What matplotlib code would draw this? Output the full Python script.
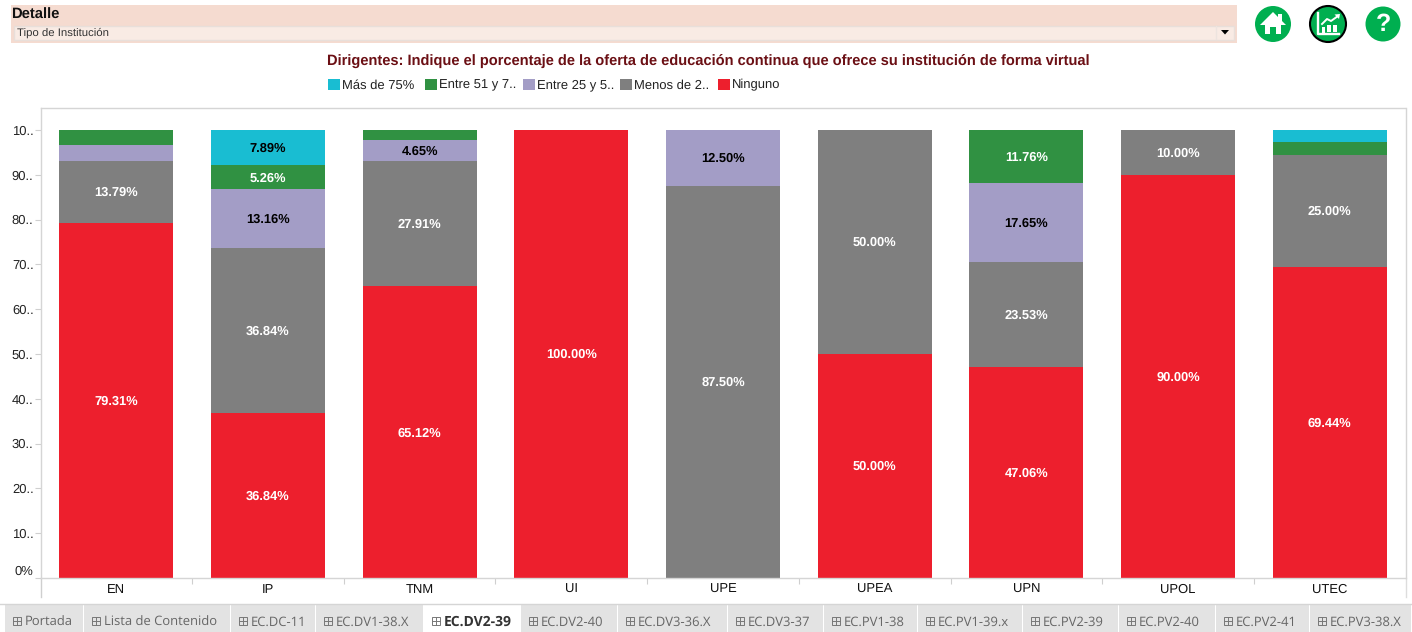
import matplotlib
matplotlib.use("Agg")
import matplotlib.pyplot as plt
from matplotlib.patches import Rectangle, Circle, Polygon

W, H = 1412, 632
SANS = "Liberation Sans"
plt.rcParams["font.family"] = [SANS, "DejaVu Sans"]
plt.rcParams["text.hinting"] = "no_hinting"

# ---- data ----
categories = ["EN", "IP", "TNM", "UI", "UPE", "UPEA", "UPN", "UPOL", "UTEC"]
ninguno = [79.31, 36.84, 65.12, 100.00, 0, 50.00, 47.06, 90.00, 69.44]
menos_25 = [13.79, 36.84, 27.91, 0, 87.50, 50.00, 23.53, 10.00, 25.00]
entre_25_50 = [3.45, 13.16, 4.65, 0, 12.50, 0, 17.65, 0, 0]
entre_51_75 = [3.45, 5.26, 2.33, 0, 0, 0, 11.76, 0, 2.78]
mas_75 = [0, 7.89, 0, 0, 0, 0, 0, 0, 2.78]
series_names = ["Ninguno", "Menos de 2..", "Entre 25 y 5..", "Entre 51 y 7..", "Más de 75%"]
series_values = [ninguno, menos_25, entre_25_50, entre_51_75, mas_75]
series_colors = ["#ED1F2D", "#7F7F7F", "#A39DC6", "#309142", "#19BDD2"]
label_colors = ["white", "white", "black", "white", "black"]
y_ticks = [0, 10, 20, 30, 40, 50, 60, 70, 80, 90, 100]
y_labels = ["0%", "10..", "20..", "30..", "40..", "50..", "60..", "70..", "80..", "90..", "10.."]
title = "Dirigentes: Indique el porcentaje de la oferta de educación continua que ofrece su institución de forma virtual"
tabs = ["Portada", "Lista de Contenido", "EC.DC-11", "EC.DV1-38.X", "EC.DV2-39", "EC.DV2-40",
        "EC.DV3-36.X", "EC.DV3-37", "EC.PV1-38", "EC.PV1-39.x", "EC.PV2-39", "EC.PV2-40",
        "EC.PV2-41", "EC.PV3-38.X"]
tab_edges = [5, 84, 231, 316, 424, 521, 618, 728, 824, 918, 1023, 1119, 1216, 1310, 1412]
active_tab = "EC.DV2-39"
legend_left = [328, 425, 523, 620, 718]
MIN_LABEL = 4

fig = plt.figure(figsize=(W / 100, H / 100), dpi=100, facecolor="white")

# ---- pixel-space layer for the dashboard chrome ----
ui = fig.add_axes([0, 0, 1, 1], zorder=0)
ui.set_xlim(0, W)
ui.set_ylim(H, 0)
ui.axis("off")

ui.add_patch(Rectangle((11, 5), 1226, 38, fc="#F5DBD0", ec="none"))
ui.add_patch(Rectangle((13.5, 25.5), 1220, 14, fc="#F9EBE4", ec="#E8DFDA", lw=1))
ui.plot([1216, 1216], [26, 39], color="#EDE4DF", lw=1)
ui.add_patch(Polygon([[1221, 30], [1229, 30], [1225, 34.5]], fc="black", ec="none"))
ui.text(11, 15, "Detalle", fontsize=10.6, fontweight="bold", va="center", color="#111111")
ui.text(17, 33, "Tipo de Institución", fontsize=8.2, va="center", color="#333333")
ui.text(708.5, 60.5, title, fontsize=10.52, fontweight="bold", ha="center", va="center", color="#6B0F14")

# icons
GREEN = "#00AF50"
ui.add_patch(Circle((1273, 24), 18, fc=GREEN, ec="none"))
ui.add_patch(Polygon([[1260, 25], [1273, 12], [1278, 17], [1278, 14], [1282, 14], [1282, 21], [1286, 25]],
                     fc="white", ec="none"))
ui.add_patch(Polygon([[1265, 24], [1281, 24], [1281, 34], [1276, 34], [1276, 27], [1270, 27], [1270, 34],
                      [1265, 34]], fc="white", ec="none"))
ui.add_patch(Circle((1328, 24), 18, fc=GREEN, ec="black", lw=1.5))
ui.plot([1318, 1318, 1339], [13, 34, 34], color="white", lw=1.7)
for bx, bt in [(1323.5, 27), (1329, 25), (1335, 25)]:
    ui.add_patch(Rectangle((bx - 1.7, bt), 3.4, 6.5, fc="white", ec="none"))
ui.plot([1322, 1327, 1331, 1338], [24, 19, 21, 16], color="white", lw=1.4)
ui.add_patch(Polygon([[1334.5, 14.5], [1340, 14], [1339, 19]], fc="white", ec="none"))
ui.add_patch(Circle((1383, 24), 17.5, fc=GREEN, ec="none"))
ui.text(1383, 24.5, "?", fontsize=18, fontweight="bold", color="white", ha="center", va="center")

# tabs
ui.plot([0, W], [604, 604], color="#D5D5D5", lw=1)
for i, name in enumerate(tabs):
    x0, x1 = tab_edges[i], tab_edges[i + 1]
    on = name == active_tab
    ui.add_patch(Rectangle((x0, 605), x1 - x0 - 1, 27, fc="white" if on else "#E3E3E3", ec="none"))
    # the little grid glyph in front of each sheet name
    gx, gy = x0 + 8, 620.5
    c = "#777777"
    ui.add_patch(Rectangle((gx, gy - 4), 8, 8, fc="none", ec=c, lw=0.7))
    ui.plot([gx, gx + 8], [gy, gy], color=c, lw=0.7)
    ui.plot([gx + 4, gx + 4], [gy - 4, gy + 4], color=c, lw=0.7)
    ui.text(x0 + 20, 622, name, fontsize=10 if on else 9.4, fontfamily="Open Sans",
            fontweight="bold" if on else "normal", color="#333333" if on else "#666666",
            va="center", ha="left")

# axis frame continuing below the baseline
ui.plot([40.5, 40.5], [578, 597], color="#CFCFCF", lw=1)
ui.plot([1405.5, 1405.5], [578, 597], color="#DDDDDD", lw=1)

# ---- chart ----
ax = fig.add_axes([40.5 / W, 1 - 578 / H, 1365 / W, 470 / H], zorder=1)
ax.set_facecolor("none")
ax.set_xlim(-0.5, 8.5)
ax.set_ylim(0, 470 / 4.48)

positions = list(range(len(categories)))
bottom = [0.0] * len(categories)
handles = []
for name, vals, col, lcol in zip(series_names, series_values, series_colors, label_colors):
    bars = ax.bar(positions, vals, width=0.75, bottom=bottom, color=col, linewidth=0,
                  label=name, antialiased=False)
    handles.append(bars)
    for p, v, b in zip(positions, vals, bottom):
        if v >= MIN_LABEL:
            ax.annotate(f"{v:.2f}%", (p, b + v / 2), xytext=(0, -0.7), textcoords="offset points",
                        ha="center", va="center", fontsize=9.3, fontweight="bold", color=lcol)
    bottom = [b + v for b, v in zip(bottom, vals)]

ax.set_yticks(y_ticks, y_labels)
ax.set_xticks(positions, categories)
ax.set_xticks([p + 0.5 for p in positions[:-1]], minor=True)
ax.tick_params(axis="y", length=4, width=0.8, color="#CFCFCF", labelsize=9.4, labelcolor="#222222", pad=1)
ax.tick_params(axis="x", which="major", length=0, labelsize=9.4, labelcolor="#111111", pad=4)
ax.tick_params(axis="x", which="minor", length=4, width=0.8, color="#CFCFCF")
ax.get_yticklabels()[0].set_va("bottom")
for s in ax.spines.values():
    s.set_color("#D5D5D5")
    s.set_linewidth(1)

# one legend per entry: the source spaces its truncated entries unevenly
for h, name, left in zip(handles[::-1], series_names[::-1], legend_left):
    fig.legend([h], [name], loc="center left", bbox_to_anchor=(left / W, 1 - 85.0 / H), frameon=False,
               fontsize=9.4, handlelength=0.92, handleheight=0.92, handletextpad=0.15,
               borderpad=0, borderaxespad=0, labelcolor="#222222")

fig.savefig("out.png", dpi=100, facecolor="white")
